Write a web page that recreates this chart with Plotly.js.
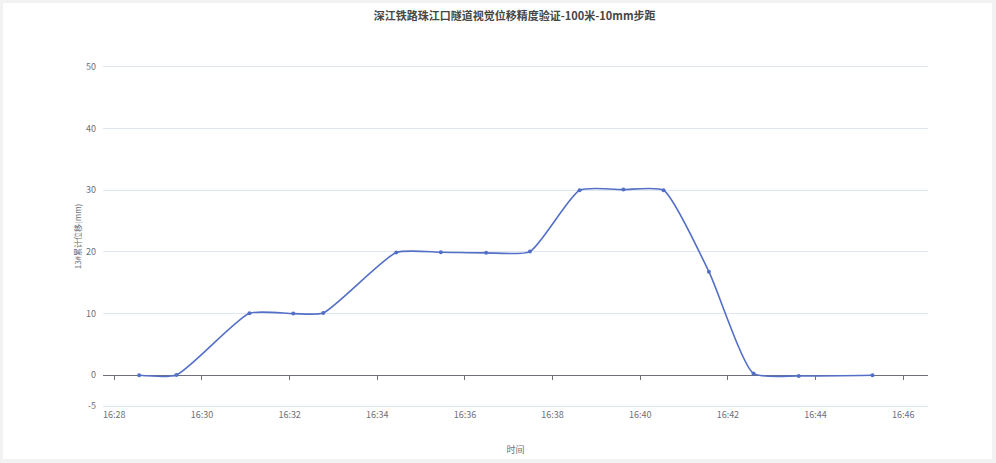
<!DOCTYPE html>
<html>
<head>
<meta charset="utf-8">
<script src="https://cdn.plot.ly/plotly-3.0.1.min.js"></script>
<style>
html,body{margin:0;padding:0;background:#f2f2f2;}
#wrap{position:absolute;left:3px;top:3px;width:989px;height:456px;background:#fff;}
#chart{position:absolute;left:-3px;top:-3px;width:996px;height:463px;}
</style>
</head>
<body>
<div id="wrap"><div id="chart"></div></div>
<script>
const day = '2024-01-01 ';
const times = ['16:28:34','16:29:25','16:31:05','16:32:05','16:32:46','16:34:26','16:35:27','16:36:29','16:37:29','16:38:37','16:39:37','16:40:32','16:41:34','16:42:35','16:43:37','16:45:18'];
const values = [0, 0.05, 10.05, 10.0, 10.1, 19.9, 19.95, 19.85, 20.05, 30.0, 30.1, 30.0, 16.8, 0.3, -0.1, 0.0];
const titleText = '深江铁路珠江口隧道视觉位移精度验证-100米-10mm步距';
const xTitle = '时间';
const yTitle = '13#累计位移(mm)';
const xRange = ['2024-01-01 16:27:44.5', '2024-01-01 16:46:34'];
const yRange = [-5.3, 50.3];
const yTicks = [-5, 0, 10, 20, 30, 40, 50];

const xs = times.map(t => day + t);
const font = 'Noto Sans CJK SC, Microsoft YaHei, sans-serif';

const traces = [
  {
    x: xs, y: values, type: 'scatter', mode: 'lines+markers',
    line: {shape: 'spline', smoothing: 0.55, color: '#5470c6', width: 1.6},
    marker: {size: 4, color: '#5470c6'},
    hoverinfo: 'x+y', showlegend: false
  },
  {
    x: xs, y: values, type: 'scatter', mode: 'lines', xaxis: 'x2',
    line: {width: 0, color: 'rgba(0,0,0,0)'}, hoverinfo: 'skip', showlegend: false
  }
];

const layout = {
  width: 996, height: 463,
  paper_bgcolor: 'rgba(0,0,0,0)', plot_bgcolor: 'rgba(0,0,0,0)',
  margin: {l: 103, r: 68, t: 65, b: 55},
  font: {family: font, size: 9, color: '#6e7079'},
  title: {text: '<b>' + titleText + '</b>', x: 0.499, xref: 'paper', y: 0.966, yref: 'container',
          xanchor: 'center', yanchor: 'middle', font: {family: font, size: 11, color: '#464646'}},
  xaxis: {
    type: 'date', range: xRange, tickformat: '%H:%M', dtick: 120000, tick0: '2024-01-01 16:28:00',
    showgrid: false, zeroline: false, showline: false, ticks: '', ticklabelstandoff: 0,
    tickfont: {family: font, size: 9, color: '#6e7079'},
    title: {text: xTitle, font: {family: font, size: 9, color: '#6e7079'}, standoff: 26}
  },
  xaxis2: {
    type: 'date', overlaying: 'x', matches: 'x', anchor: 'free', position: 0.0953, side: 'bottom',
    dtick: 120000, tick0: '2024-01-01 16:28:00', showticklabels: false, showgrid: false, zeroline: false,
    showline: false, ticks: 'outside', ticklen: 4, tickcolor: '#6e7079', tickwidth: 1
  },
  yaxis: {
    range: yRange, tickvals: yTicks, ticktext: yTicks.map(String),
    showgrid: true, gridcolor: '#e0e6f1', gridwidth: 1,
    zeroline: true, zerolinecolor: '#6e7079', zerolinewidth: 1,
    showline: false, ticks: '', ticklabelstandoff: 6,
    tickfont: {family: font, size: 9, color: '#6e7079'},
    title: {text: yTitle, font: {family: font, size: 8, color: '#6e7079'}, standoff: 3}
  }
};

Plotly.newPlot('chart', traces, layout, {displayModeBar: false, staticPlot: true});
</script>
</body>
</html>
